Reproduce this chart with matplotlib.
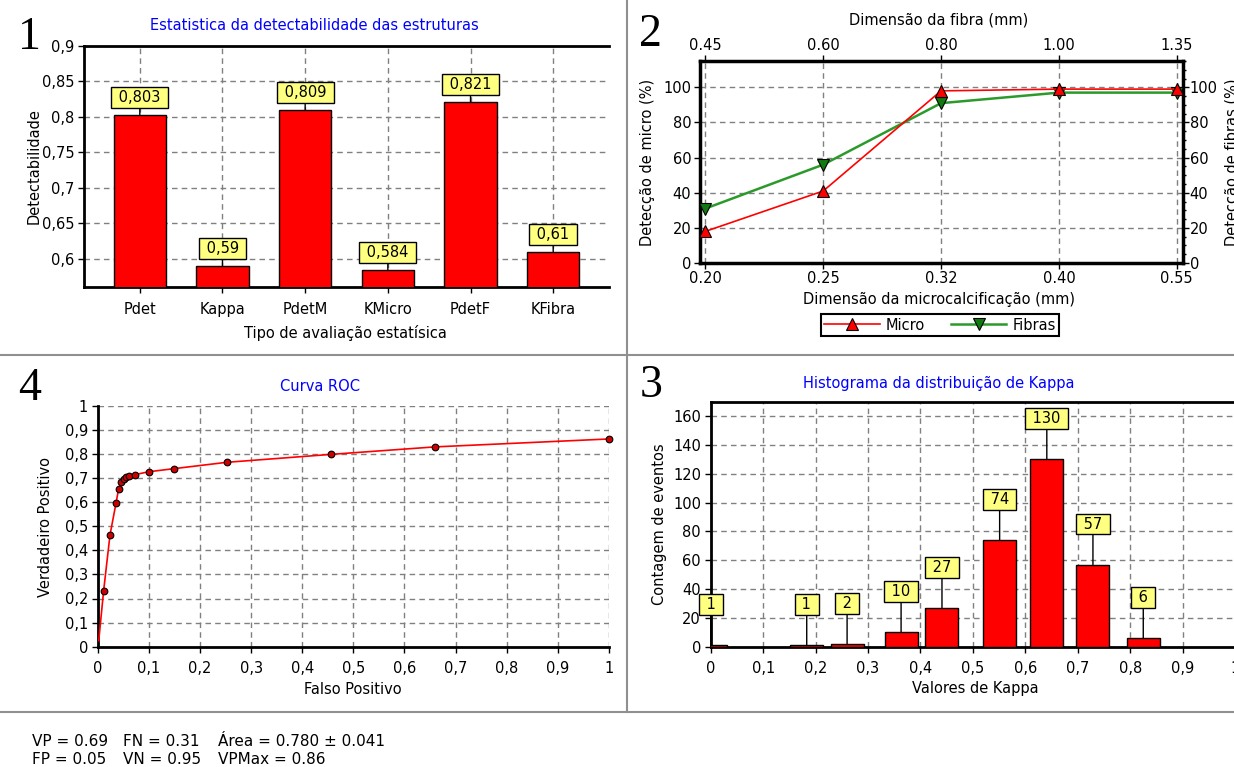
import matplotlib
matplotlib.use("Agg")
import matplotlib.pyplot as plt
from matplotlib.lines import Line2D
from matplotlib.ticker import FixedLocator, MultipleLocator

plt.rcParams['font.family'] = ['DejaVu Sans']
plt.rcParams['font.size'] = 10.5

# ---------------- data ----------------
categories = ['Pdet', 'Kappa', 'PdetM', 'KMicro', 'PdetF', 'KFibra']
detect_values = [0.803, 0.59, 0.809, 0.584, 0.821, 0.61]

micro_sizes = ['0.20', '0.25', '0.32', '0.40', '0.55']
fibra_sizes = ['0.45', '0.60', '0.80', '1.00', '1.35']
micro_detect = [18, 41, 98, 99, 99]
fibra_detect = [31, 56, 91, 97, 97]

roc_fp = [0.0116, 0.024, 0.036, 0.041, 0.046, 0.051, 0.056, 0.061,
          0.073, 0.10, 0.15, 0.252, 0.456, 0.659, 1.0]
roc_tp = [0.232, 0.463, 0.598, 0.656, 0.683, 0.696, 0.703, 0.708,
          0.714, 0.726, 0.739, 0.765, 0.798, 0.829, 0.862]
roc_start = (0.002, 0.025)

kappa_centers = [0.0, 0.183, 0.26, 0.363, 0.441, 0.551, 0.641, 0.729, 0.825]
kappa_counts = [1, 1, 2, 10, 27, 74, 130, 57, 6]

stats_row1 = ['VP = 0.69', 'FN = 0.31', 'Área = 0.780 ± 0.041']
stats_row2 = ['FP = 0.05', 'VN = 0.95', 'VPMax = 0.86']

# ---------------- layout helpers ----------------
W, H = 1234, 767
fig = plt.figure(figsize=(W / 100, H / 100), dpi=100)

def ax_at(l, t, r, b):
    return fig.add_axes([l / W, 1 - b / H, (r - l) / W, (b - t) / H])

def ftext(x, y, s, **kw):
    kw.setdefault('ha', 'center')
    kw.setdefault('va', 'center')
    return fig.text(x / W, 1 - y / H, s, **kw)

GRID = dict(color='#808080', linestyle=(0, (4, 3)), linewidth=1)
BLUE = '#0000ff'
RED = '#ff0000'
BOX = dict(boxstyle='square,pad=0.2', fc='#ffff80', ec='black', lw=1)

def comma(v):
    if v == 0:
        return '0'
    if v == 1:
        return '1'
    return f'{round(v, 3):g}'.replace('.', ',')

def style_spines(ax, visible, lw=2):
    for side, sp in ax.spines.items():
        sp.set_visible(side in visible)
        sp.set_linewidth(lw)
        sp.set_color('black')

def value_box(ax, x, y, text, off):
    ax.annotate(f' {text} ', xy=(x, y), xytext=(0, off),
                textcoords='offset pixels', ha='center', va='bottom',
                bbox=BOX, annotation_clip=False, zorder=6,
                arrowprops=dict(arrowstyle='-', color='black', lw=1,
                                shrinkA=0, shrinkB=0))

# ---------------- panel 1: detectability bars ----------------
ax1 = ax_at(84, 45.7, 609, 287)
xpos = list(range(len(categories)))
ax1.bar(xpos, detect_values, width=0.63, color=RED, edgecolor='black',
        lw=1, zorder=3)
ax1.set_xlim(-0.675, 5.675)
ax1.set_ylim(0.5606, 0.9)
ax1.set_xticks(xpos)
ax1.set_xticklabels(categories)
yt = [0.6, 0.65, 0.7, 0.75, 0.8, 0.85, 0.9]
ax1.yaxis.set_major_locator(FixedLocator(yt))
ax1.set_yticklabels([comma(v) for v in yt])
ax1.set_axisbelow(True)
ax1.grid(True, **GRID)
style_spines(ax1, ['left', 'bottom', 'top'])
ax1.tick_params(direction='out', length=4, width=1, pad=3)
ax1.tick_params(axis='x', pad=7)
for x, v in zip(xpos, detect_values):
    value_box(ax1, x, v, comma(v), 10)

ftext(314, 25, 'Estatistica da detectabilidade das estruturas', color=BLUE)
ftext(34, 166, 'Detectabilidade', rotation=90)
ftext(345, 333, 'Tipo de avaliação estatísica')
ftext(29, 38, '1', family='Liberation Serif', fontsize=33)

# ---------------- panel 2: detection vs size ----------------
ax2 = ax_at(699.5, 61, 1182.6, 263)
pos2 = list(range(len(micro_sizes)))
ax2.plot(pos2, micro_detect, color=RED, lw=1.2, marker='^', ms=8,
         mfc=RED, mec='black', mew=0.8, zorder=4, label='Micro')
ax2.plot(pos2, fibra_detect, color='#2b9a2b', lw=1.8, marker='v', ms=8,
         mfc='#107a10', mec='black', mew=0.8, zorder=3, label='Fibras')
ax2.set_xlim(-0.05, 4.05)
ax2.set_ylim(0, 115)
ax2.set_xticks(pos2)
ax2.set_xticklabels(micro_sizes)
ax2.set_yticks([0, 20, 40, 60, 80, 100])
ax2.set_axisbelow(True)
ax2.grid(True, **GRID)
style_spines(ax2, ['left', 'bottom', 'top', 'right'], lw=2.5)
ax2.tick_params(direction='out', length=4, width=1, pad=2)

top2 = ax2.secondary_xaxis('top')
top2.set_xticks(pos2)
top2.set_xticklabels(fibra_sizes)
top2.tick_params(direction='out', length=4, width=1, pad=2)
right2 = ax2.secondary_yaxis('right')
right2.set_yticks([0, 20, 40, 60, 80, 100])
right2.yaxis.set_minor_locator(MultipleLocator(5))
right2.tick_params(direction='out', length=4, width=1, pad=1)
right2.tick_params(which='minor', direction='out', length=2, width=1)

ftext(939, 20, 'Dimensão da fibra (mm)')
ftext(939, 299, 'Dimensão da microcalcificação (mm)')
ftext(647, 162, 'Detecção de micro (%)', rotation=90)
ftext(1233, 162, 'Detecção de fibras (%)', rotation=90)
ftext(650, 35, '2', family='Liberation Serif', fontsize=33)

leg = fig.legend(handles=ax2.get_lines(), loc='center',
                 bbox_to_anchor=(940 / W, 1 - 325 / H), ncol=2,
                 frameon=True, fancybox=False, edgecolor='black',
                 framealpha=1, handlelength=3.8, borderpad=0.25,
                 columnspacing=1.8, handletextpad=0.4)
leg.get_frame().set_linewidth(1.5)

# ---------------- panel 4: ROC curve ----------------
ax4 = ax_at(97.7, 405.7, 609, 646.7)
ax4.plot([roc_start[0]] + roc_fp, [roc_start[1]] + roc_tp,
         color=RED, lw=1.2, zorder=3)
ax4.plot(roc_fp, roc_tp, linestyle='none', marker='o', ms=4.8,
         mfc='#cc0000', mec='black', mew=0.8, zorder=4, clip_on=False)
ax4.set_xlim(0, 1)
ax4.set_ylim(0, 1)
t4 = [i / 10 for i in range(11)]
ax4.xaxis.set_major_locator(FixedLocator(t4))
ax4.yaxis.set_major_locator(FixedLocator(t4))
ax4.set_xticklabels([comma(v) for v in t4])
ax4.set_yticklabels([comma(v) for v in t4])
ax4.set_axisbelow(True)
ax4.grid(True, **GRID)
style_spines(ax4, ['left', 'bottom'])
ax4.tick_params(direction='out', length=4, width=1, pad=3)
ax4.tick_params(axis='x', pad=6)

ftext(319.5, 387, 'Curva ROC', color=BLUE)
ftext(45.5, 527, 'Verdadeiro Positivo', rotation=90)
ftext(353, 689, 'Falso Positivo')
ftext(30, 389, '4', family='Liberation Serif', fontsize=33)

# ---------------- panel 3: Kappa histogram ----------------
ax3 = ax_at(710.8, 401.7, 1235, 646.7)
ax3.bar(kappa_centers, kappa_counts, width=0.063, color=RED,
        edgecolor='black', lw=1, zorder=3)
ax3.set_xlim(0, 1)
ax3.set_ylim(0, 170)
ax3.xaxis.set_major_locator(FixedLocator(t4))
ax3.set_xticklabels([comma(v) for v in t4])
ax3.set_yticks(list(range(0, 161, 20)))
ax3.set_axisbelow(True)
ax3.grid(True, **GRID)
style_spines(ax3, ['left', 'bottom', 'top'])
ax3.tick_params(direction='out', length=4, width=1, pad=3)
ax3.tick_params(axis='x', pad=6)
for x, c in zip(kappa_centers, kappa_counts):
    value_box(ax3, x, c, str(c), 33)

ftext(939, 383, 'Histograma da distribuição de Kappa', color=BLUE)
ftext(659, 524, 'Contagem de eventos', rotation=90)
ftext(975, 689, 'Valores de Kappa')
ftext(651, 386, '3', family='Liberation Serif', fontsize=33)

# ---------------- separators and summary ----------------
sep = dict(color='#909090', lw=1.5)
fig.add_artist(Line2D([627 / W, 627 / W], [1, 1 - 712 / H], **sep))
fig.add_artist(Line2D([0, 1], [1 - 355 / H, 1 - 355 / H], **sep))
fig.add_artist(Line2D([0, 1], [1 - 712 / H, 1 - 712 / H], **sep))

cols = [32, 123, 218]
for x, s in zip(cols, stats_row1):
    ftext(x, 741, s, ha='left', fontsize=11)
for x, s in zip(cols, stats_row2):
    ftext(x, 759, s, ha='left', fontsize=11)

fig.savefig('out.png', dpi=100)
